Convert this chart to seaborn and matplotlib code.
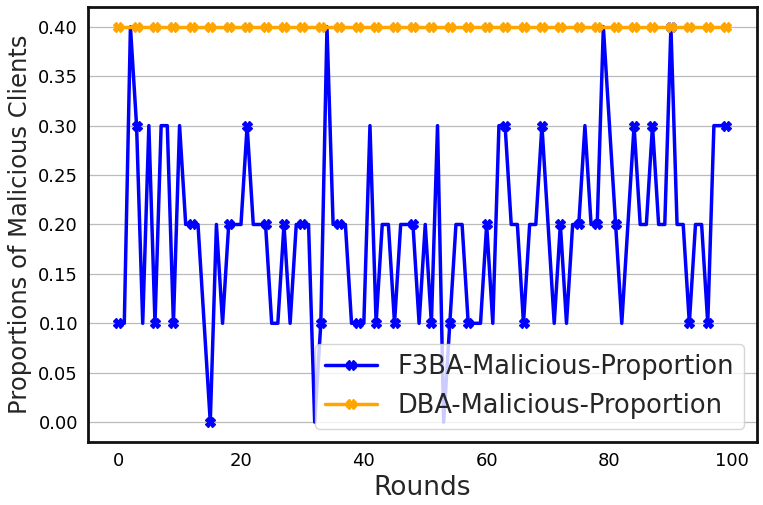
import matplotlib
matplotlib.use("Agg")
import matplotlib.pyplot as plt
import seaborn as sns
import pandas as pd
import numpy as np

rounds = list(range(100))
f3ba = [0.1, 0.1, 0.4, 0.3, 0.1, 0.3, 0.1, 0.3, 0.3, 0.1,
        0.3, 0.2, 0.2, 0.2, 0.1, 0.0, 0.2, 0.1, 0.2, 0.2,
        0.2, 0.3, 0.2, 0.2, 0.2, 0.1, 0.1, 0.2, 0.1, 0.2,
        0.2, 0.2, 0.0, 0.1, 0.4, 0.2, 0.2, 0.2, 0.1, 0.1,
        0.1, 0.3, 0.1, 0.2, 0.2, 0.1, 0.2, 0.2, 0.2, 0.1,
        0.2, 0.1, 0.3, 0.0, 0.1, 0.2, 0.2, 0.1, 0.1, 0.1,
        0.2, 0.1, 0.3, 0.3, 0.2, 0.2, 0.1, 0.2, 0.2, 0.3,
        0.2, 0.1, 0.2, 0.1, 0.2, 0.2, 0.3, 0.2, 0.2, 0.4,
        0.3, 0.2, 0.1, 0.2, 0.3, 0.2, 0.2, 0.3, 0.2, 0.2,
        0.4, 0.2, 0.2, 0.1, 0.2, 0.2, 0.1, 0.3, 0.3, 0.3]
dba = [0.4] * 100
series_names = ["F3BA-Malicious-Proportion", "DBA-Malicious-Proportion"]
yticks = [0.0, 0.05, 0.10, 0.15, 0.20, 0.25, 0.30, 0.35, 0.40]

sns.set_style("whitegrid")
plt.rcParams['font.family'] = ['DejaVu Sans']

fig, ax = plt.subplots(figsize=(7.63, 5.05), dpi=100)

df1 = pd.DataFrame({"Rounds": rounds, "val": f3ba})
df2 = pd.DataFrame({"Rounds": rounds, "val": dba})
sns.lineplot(data=df1, x="Rounds", y="val", ax=ax, color="blue", lw=2.5,
             marker="X", markersize=7, markevery=3, markeredgewidth=1,
             markeredgecolor="blue", label=series_names[0])
sns.lineplot(data=df2, x="Rounds", y="val", ax=ax, color="orange", lw=2.5,
             marker="X", markersize=7, markevery=3, markeredgewidth=1,
             markeredgecolor="orange", label=series_names[1])

ax.set_xlabel("Rounds", fontsize=19)
ax.set_ylabel("Proportions of Malicious Clients", fontsize=17.5)
ax.set_yticks(yticks)
ax.yaxis.set_major_formatter(matplotlib.ticker.FormatStrFormatter('%.2f'))
ax.set_xticks([0, 20, 40, 60, 80, 100])
ax.tick_params(axis='both', labelsize=13, length=3.5, width=0.8, colors='#333333', labelcolor='black', direction='out')
ax.set_xlim(-4.95, 104)
ax.set_ylim(-0.02, 0.42)
ax.grid(axis='x', visible=False)
ax.grid(axis='y', color='#bbbbbb', lw=0.9)
for s in ax.spines.values():
    s.set_color('#111111')
    s.set_linewidth(2)
ax.legend(loc='lower right', fontsize=18.5, framealpha=0.8, handlelength=2)

plt.subplots_adjust(left=0.115, right=0.992, top=0.986, bottom=0.125)
fig.savefig("out.png", dpi=100)
